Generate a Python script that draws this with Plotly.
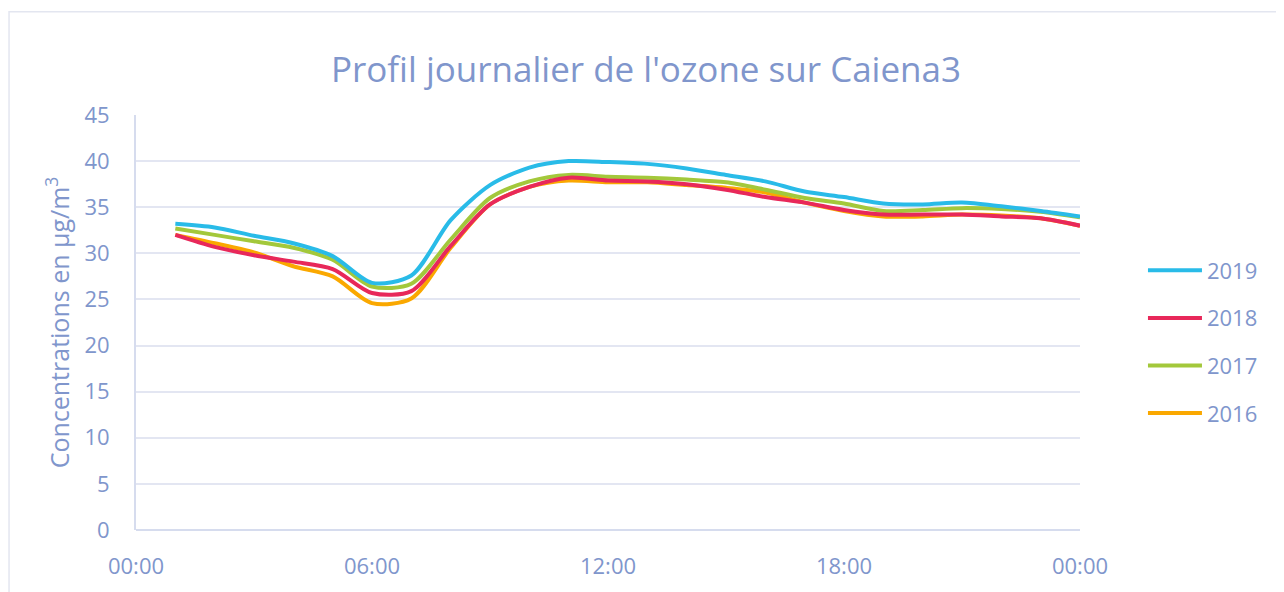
import plotly.graph_objects as go

hours = list(range(1, 25))
y2019 = [33.2, 32.8, 31.9, 31.1, 29.7, 26.8, 27.6, 33.6, 37.4, 39.3, 40.0, 39.9, 39.7, 39.2, 38.5, 37.8,
         36.7, 36.1, 35.4, 35.3, 35.5, 35.1, 34.6, 34.0]
y2018 = [32.0, 30.7, 29.8, 29.1, 28.3, 25.7, 25.9, 30.8, 35.3, 37.2, 38.2, 37.9, 37.8, 37.5, 36.9, 36.1,
         35.5, 34.7, 34.2, 34.2, 34.2, 34.0, 33.8, 33.0]
y2017 = [32.7, 32.0, 31.3, 30.6, 29.3, 26.4, 26.7, 31.5, 36.0, 37.8, 38.5, 38.3, 38.2, 38.0, 37.7, 36.9,
         36.0, 35.4, 34.6, 34.7, 34.9, 34.8, 34.5, 33.9]
y2016 = [32.0, 31.1, 30.1, 28.6, 27.5, 24.6, 25.1, 30.6, 35.3, 37.2, 37.9, 37.7, 37.7, 37.4, 37.1, 36.6,
         35.5, 34.6, 34.0, 34.0, 34.2, 34.1, 33.8, 33.0]
tick_vals = [0, 6, 12, 18, 24]
tick_text = ["00:00", "06:00", "12:00", "18:00", "00:00"]

series = [("2019", y2019, "#29BBE8"), ("2018", y2018, "#E8285A"),
          ("2017", y2017, "#A3C83B"), ("2016", y2016, "#FAA800")]

txt = "#8096CC"
fig = go.Figure()
# draw 2016 first so 2019 ends on top, keep legend order 2019..2016
for i, (name, ys, col) in enumerate(reversed(series)):
    fig.add_trace(go.Scatter(x=hours, y=ys, name=name, mode="lines",
                             line=dict(color=col, width=4, shape="spline", smoothing=0.8),
                             legendrank=10 - i, legendgroup=name))

fig.add_shape(type="rect", xref="paper", yref="paper", x0=-0.1345, x1=1.3, y0=-0.3, y1=1.249,
              line=dict(color="#E3E6F0", width=1.5), layer="below")

# page body has an 8px margin, so the figure is 8px smaller than the window
fig.update_layout(
    width=1276, height=584,
    margin=dict(l=128, r=204, t=107, b=60),
    paper_bgcolor="white", plot_bgcolor="white",
    font=dict(family="Open Sans", color=txt, size=22),
    title=dict(text="Profil journalier de l'ozone sur Caiena3", x=0.5, xanchor="center", xref="container",
               y=0.895, yanchor="middle", yref="container", font=dict(size=35, color=txt)),
    legend=dict(x=1.0667, y=0.453, xanchor="left", yanchor="middle", font=dict(size=22, color=txt),
                tracegroupgap=16, itemwidth=54, bgcolor="rgba(0,0,0,0)"),
)
fig.update_xaxes(range=[0, 24], tickvals=tick_vals, ticktext=tick_text, showgrid=False,
                 zeroline=False, showline=False, ticks="", tickfont=dict(size=22), ticklabelstandoff=21)
fig.update_yaxes(range=[0, 45], dtick=5, showgrid=True, gridcolor="#E3E6F2", gridwidth=1.5,
                 zeroline=True, zerolinecolor="#D6DCEE", zerolinewidth=2,
                 showline=True, linecolor="#D6DCEE", linewidth=2, ticks="",
                 tickfont=dict(size=22), ticklabelstandoff=20,
                 title=dict(text="Concentrations en µg/m<sup>3</sup>", font=dict(size=25, color=txt), standoff=8))

fig.write_html("out.html")
